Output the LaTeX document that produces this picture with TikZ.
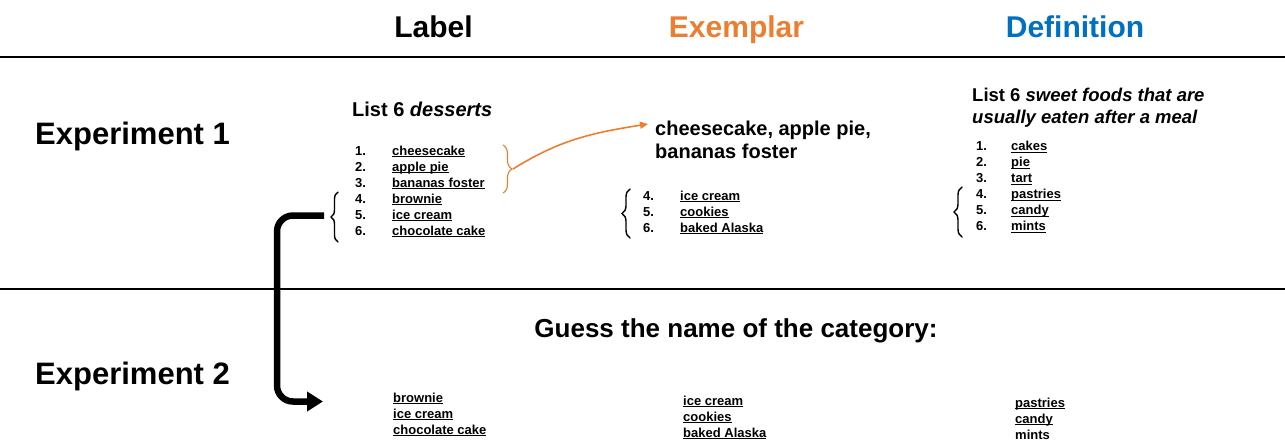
\documentclass[tikz,border=0pt]{standalone}
\usepackage{fontspec}
\setmainfont{Liberation Sans}
\usetikzlibrary{arrows.meta,decorations.pathreplacing}
\definecolor{exorange}{HTML}{ED7D31}
\definecolor{defblue}{HTML}{0070C0}
% bold underline drawn as a rule under the word
\newcommand\ulx[1]{\setbox0\hbox{#1}\rlap{\rule[-2.3pt]{\wd0}{1.2pt}}\box0}

\begin{document}
\begin{tikzpicture}[x=1pt,y=-1pt,
  item/.style={anchor=base west,inner sep=0pt,font=\bfseries\fontsize{13}{15}\selectfont},
  head/.style={anchor=base,inner sep=0pt,font=\bfseries\fontsize{30}{36}\selectfont},
  expt/.style={anchor=base west,inner sep=0pt,font=\bfseries\fontsize{31}{36}\selectfont},
  prompt/.style={anchor=base west,inner sep=0pt,font=\bfseries\fontsize{20}{24}\selectfont},
  defprompt/.style={anchor=base west,inner sep=0pt,font=\bfseries\fontsize{18.5}{22}\selectfont},
  divider/.style={line width=2pt},
  bracket/.style={decorate,decoration={brace,amplitude=#1},line width=1.1pt},
  kbracket/.style={decorate,decoration={brace,amplitude=#1},line width=1.4pt,line cap=round},
  ]
\useasboundingbox (0,0) rectangle (1285,440);

% column headings and section dividers
\node[head] (hLabel) at (433.5,37) {Label};
\node[head,text=exorange] (hExemplar) at (736.5,37) {Exemplar};
\node[head,text=defblue] (hDefinition) at (1075,37) {Definition};
\draw[divider] (0,57) -- (1285,57);
\draw[divider] (0,288.5) -- (1285,288.5);

\node[expt] (exp1) at (35,144) {Experiment 1};
\node[expt] (exp2) at (35,384) {Experiment 2};

% Label condition
\node[prompt] (labP) at (352,116) {List 6 \textit{desserts}};
\foreach \n/\w [count=\k from 0] in {1/cheesecake,2/apple pie,3/bananas foster,4/brownie,5/ice cream,6/chocolate cake}{
  \node[item] (labN\n) at (355,155+16*\k) {\n.};
  \node[item] (labW\n) at (392,155+16*\k) {\ulx{\w}};
}
\draw[bracket=9pt,exorange] (503,145) -- (503,193);
\coordinate (otip) at (513,169);
\draw[kbracket=7pt] (338,242) -- (338,192);
\coordinate (ktip) at (324,215.5);

% Exemplar condition
\node[prompt] (exA) at (655,135) {cheesecake, apple pie,};
\node[prompt] (exB) at (655,158) {bananas foster};
\coordinate (oend) at (648,124);
\draw[exorange,line width=1.6pt,-{Triangle[length=8pt,width=7pt]}] (otip) to[out=32,in=189] (oend);
\foreach \n/\w [count=\k from 0] in {4/ice cream,5/cookies,6/baked Alaska}{
  \node[item] (exN\n) at (643,200+16*\k) {\n.};
  \node[item] (exW\n) at (680,200+16*\k) {\ulx{\w}};
}
\draw[kbracket=8pt] (630,238) -- (630,189);

% Definition condition
\node[defprompt] (defA) at (972,101) {List 6 \textit{sweet foods that are}};
\node[defprompt] (defB) at (972,123) {\textit{usually eaten after a meal}};
\foreach \n/\w [count=\k from 0] in {1/cakes,2/pie,3/tart,4/pastries,5/candy,6/mints}{
  \node[item] (defN\n) at (976,150.5+16*\k) {\n.};
  \node[item] (defW\n) at (1011,150.5+16*\k) {\ulx{\w}};
}
\draw[kbracket=8pt] (962,237) -- (962,187);

% Experiment 2
\node[anchor=base,inner sep=0pt,font=\bfseries\fontsize{26}{31}\selectfont] (guess) at (736,337) {Guess the name of the category:};
\node[item] (g1a) at (393,402) {\ulx{brownie}};
\node[item] (g1b) at (393,418) {\ulx{ice cream}};
\node[item] (g1c) at (393,434) {\ulx{chocolate cake}};
\node[item] (g2a) at (683,405) {\ulx{ice cream}};
\node[item] (g2b) at (683,421) {\ulx{cookies}};
\node[item] (g2c) at (683,437) {\ulx{baked Alaska}};
\node[item] (g3a) at (1015,407) {\ulx{pastries}};
\node[item] (g3b) at (1015,423) {\ulx{candy}};
\node[item] (g3c) at (1015,439) {mints};

\coordinate (kend) at (323,401.5);
\draw[line width=6.5pt,rounded corners=16pt,-{Triangle[length=16pt,width=19pt]}]
  (ktip) -- (277,215.5) -- (277,401.5) -- (kend);
\end{tikzpicture}
\end{document}
